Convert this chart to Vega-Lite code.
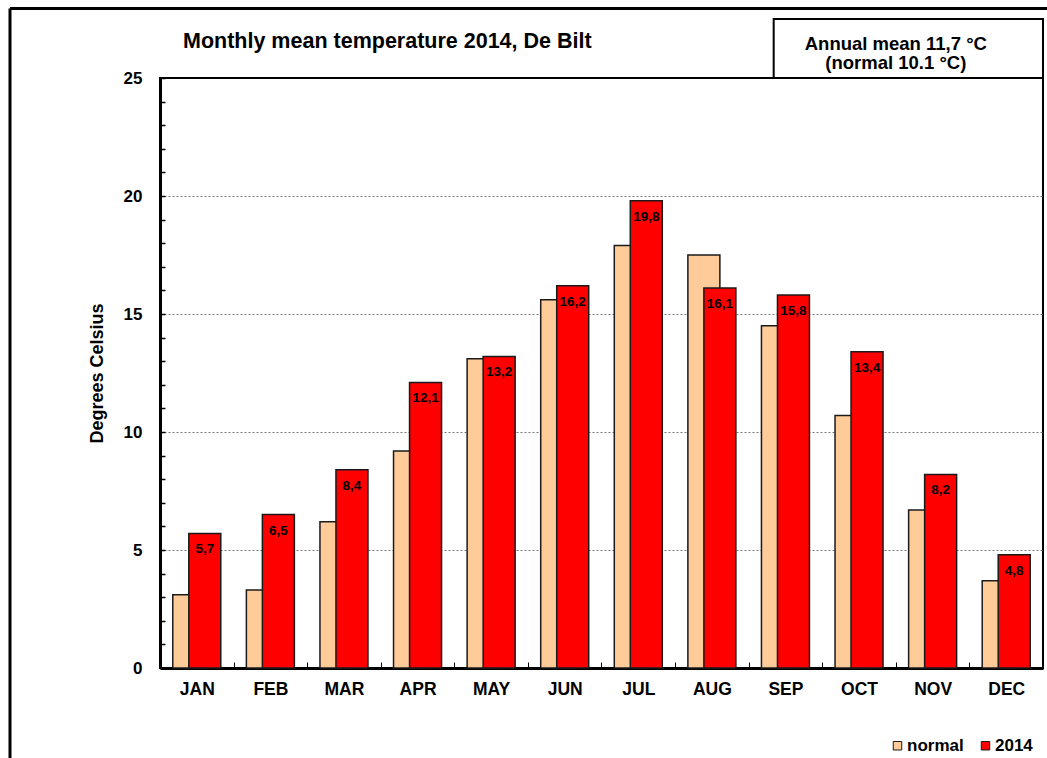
{
  "$schema": "https://vega.github.io/schema/vega-lite/v6.json",
  "width": 883,
  "height": 590,
  "autosize": {"type": "none"},
  "padding": {"left": 160, "top": 78, "right": 4, "bottom": 90},
  "background": "white",
  "config": {
    "font": "Liberation Sans",
    "view": {"stroke": "black", "strokeWidth": 2},
    "locale": {"number": {"decimal": ",", "thousands": ".", "grouping": [3], "currency": ["", " €"]}}
  },
  "title": {
    "text": "Monthly mean temperature 2014, De Bilt",
    "anchor": "start",
    "frame": "group",
    "dx": 23,
    "offset": -63,
    "baseline": "alphabetic",
    "fontSize": 21.5,
    "fontWeight": "bold",
    "color": "black"
  },
  "data": {
    "values": [
      {"month": "JAN", "normal": 3.1, "t2014": 5.7},
      {"month": "FEB", "normal": 3.3, "t2014": 6.5},
      {"month": "MAR", "normal": 6.2, "t2014": 8.4},
      {"month": "APR", "normal": 9.2, "t2014": 12.1},
      {"month": "MAY", "normal": 13.1, "t2014": 13.2},
      {"month": "JUN", "normal": 15.6, "t2014": 16.2},
      {"month": "JUL", "normal": 17.9, "t2014": 19.8},
      {"month": "AUG", "normal": 17.5, "t2014": 16.1},
      {"month": "SEP", "normal": 14.5, "t2014": 15.8},
      {"month": "OCT", "normal": 10.7, "t2014": 13.4},
      {"month": "NOV", "normal": 6.7, "t2014": 8.2},
      {"month": "DEC", "normal": 3.7, "t2014": 4.8}
    ]
  },
  "layer": [
    {
      "mark": {"type": "bar", "width": 32, "xOffset": -8, "stroke": "#1a1a1a", "strokeWidth": 1.5},
      "encoding": {
        "x": {
          "field": "month",
          "type": "nominal",
          "sort": null,
          "scale": {"type": "band", "paddingInner": 0, "paddingOuter": 0},
          "axis": {
            "title": null,
            "labelAngle": 0,
            "labelFontSize": 17.5,
            "labelFontWeight": "bold",
            "labelColor": "black",
            "labelPadding": 18,
            "tickBand": "extent",
            "tickSize": -6,
            "tickColor": "black",
            "tickWidth": 1,
            "domainColor": "black",
            "domainWidth": 3
          }
        },
        "y": {
          "field": "normal",
          "type": "quantitative",
          "scale": {"domain": [0, 25], "nice": false, "clamp": false},
          "axis": {
            "title": "Degrees Celsius",
            "titleFontSize": 18,
            "titleFontWeight": "bold",
            "titleColor": "black",
            "titlePadding": 17,
            "values": [0,1,2,3,4,5,6,7,8,9,10,11,12,13,14,15,16,17,18,19,20,21,22,23,24,25],
            "tickCount": 40,
            "format": "d",
            "labelExpr": "datum.value % 5 === 0 ? datum.label : ''",
            "labelOverlap": false,
            "labelFontSize": 17,
            "labelFontWeight": "bold",
            "labelColor": "black",
            "labelPadding": 23,
            "tickSize": -5,
            "tickColor": "black",
            "tickWidth": 1.5,
            "domainColor": "black",
            "domainWidth": 3,
            "grid": true,
            "gridColor": "#777777",
            "gridDash": [2, 2],
            "gridWidth": 1,
            "gridOpacity": {"condition": {"test": "datum.value % 5 === 0 && datum.value > 0 && datum.value < 25", "value": 1}, "value": 0}
          }
        },
        "color": {
          "datum": "normal",
          "type": "nominal",
          "scale": {"domain": ["normal", "2014"], "range": ["#FFCC99", "#FF0000"]},
          "legend": {
            "title": null,
            "orient": "none",
            "legendX": 729,
            "legendY": 659,
            "direction": "horizontal",
            "symbolType": "square",
            "symbolSize": 72,
            "symbolStrokeColor": "black",
            "symbolStrokeWidth": 1,
            "symbolOpacity": 1,
            "labelFontSize": 17,
            "labelFontWeight": "bold",
            "labelColor": "black",
            "labelOffset": 1,
            "columnPadding": 13,
            "padding": 0
          }
        }
      }
    },
    {
      "mark": {"type": "bar", "width": 32, "xOffset": 8, "stroke": "#1a1a1a", "strokeWidth": 1.5},
      "encoding": {
        "x": {"field": "month", "type": "nominal", "sort": null},
        "y": {"field": "t2014", "type": "quantitative"},
        "color": {"datum": "2014", "type": "nominal"}
      }
    },
    {
      "mark": {"type": "text", "xOffset": 8, "dy": 16, "baseline": "middle", "align": "center", "fontSize": 13.5, "fontWeight": "bold", "color": "black"},
      "encoding": {
        "x": {"field": "month", "type": "nominal", "sort": null},
        "y": {"field": "t2014", "type": "quantitative"},
        "text": {"field": "t2014", "type": "quantitative", "format": ".1f"}
      }
    },
    {
      "data": {"values": [{"box": "annual"}]},
      "mark": {"type": "rect", "fill": "white", "stroke": "black", "strokeWidth": 2},
      "encoding": {
        "x": {"datum": "SEP", "bandPosition": 0.34},
        "x2": {"datum": "DEC", "bandPosition": 1},
        "y": {"datum": 25},
        "y2": {"datum": 27.5}
      }
    },
    {
      "data": {"values": [{"label": ["Annual mean 11,7 °C", "(normal 10.1 °C)"]}]},
      "mark": {"type": "text", "align": "center", "baseline": "middle", "fontSize": 18.5, "fontWeight": "bold", "lineHeight": 19, "color": "black"},
      "encoding": {
        "x": {"datum": "NOV", "bandPosition": 0},
        "y": {"datum": 26.42},
        "text": {"field": "label"}
      }
    },
    {
      "data": {"values": [{"frame": "top"}]},
      "mark": {"type": "rule", "color": "black", "strokeWidth": 3, "xOffset": -150, "x2Offset": 4},
      "encoding": {
        "x": {"datum": "JAN", "bandPosition": 0},
        "x2": {"datum": "DEC", "bandPosition": 1},
        "y": {"datum": 27.95}
      }
    },
    {
      "data": {"values": [{"frame": "left"}]},
      "mark": {"type": "rule", "color": "black", "strokeWidth": 3, "xOffset": -150},
      "encoding": {
        "x": {"datum": "JAN", "bandPosition": 0},
        "y": {"datum": 27.95},
        "y2": {"datum": -5}
      }
    }
  ]
}
